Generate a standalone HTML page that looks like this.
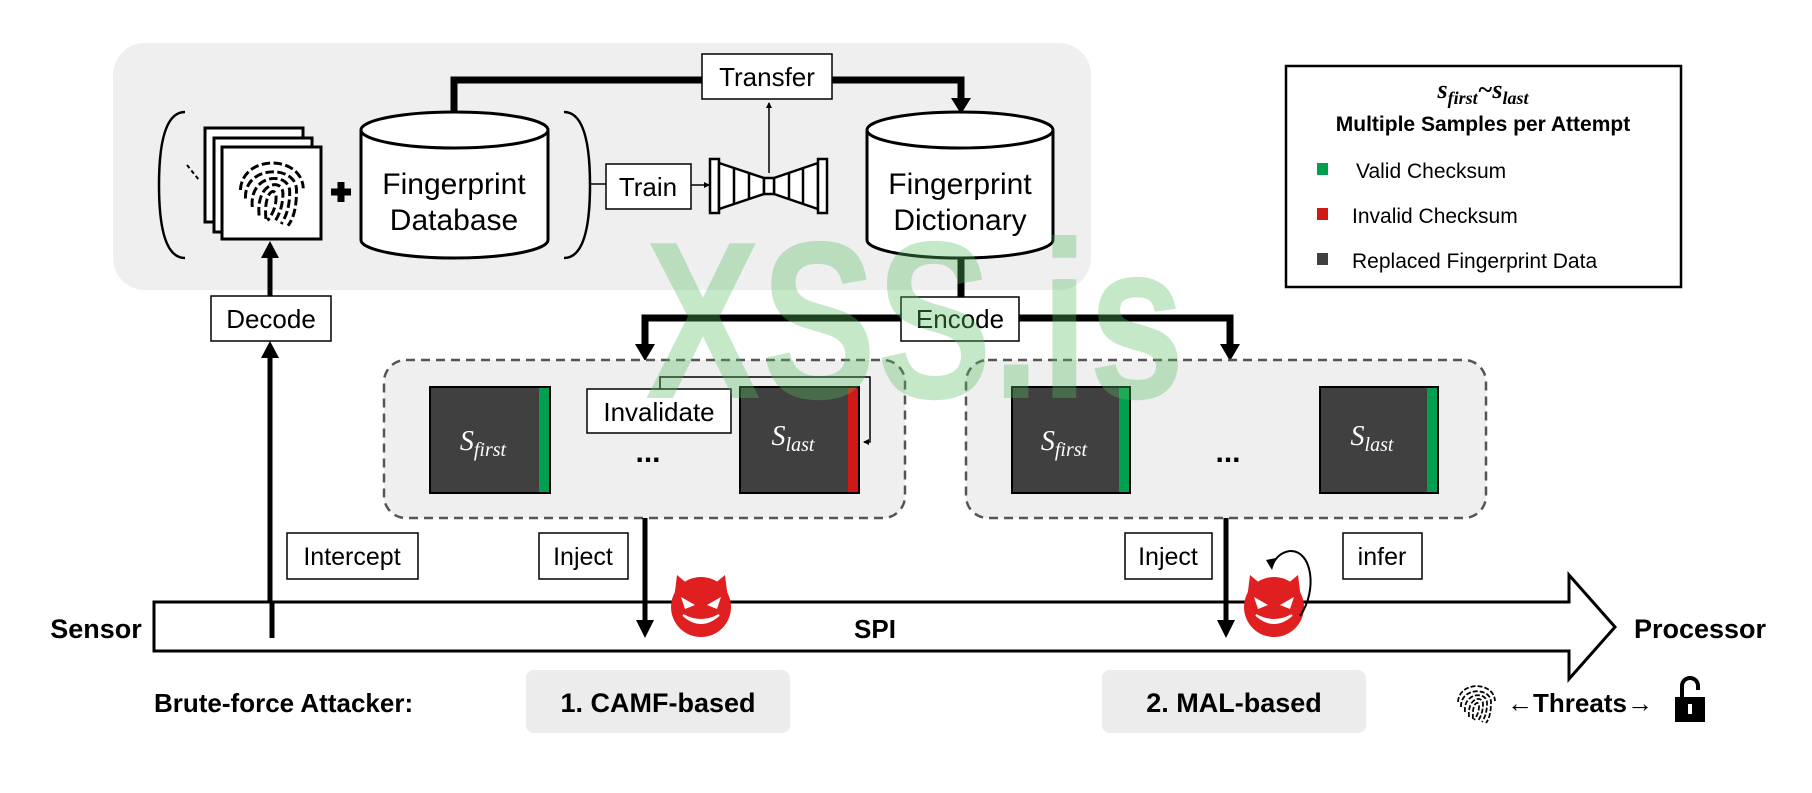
<!DOCTYPE html>
<html><head><meta charset="utf-8"><style>
html,body{margin:0;padding:0;background:#fff;}
svg{display:block;font-family:"Liberation Sans",Arial,sans-serif;}
</style></head><body>
<svg width="1812" height="793" viewBox="0 0 1812 793" xmlns="http://www.w3.org/2000/svg">
<defs>
<marker id="ah" markerWidth="6" markerHeight="6" refX="5" refY="3" orient="auto" markerUnits="userSpaceOnUse"><path d="M0,0 L6,3 L0,6 z" fill="#000"/></marker>
<g id="devil">
<path d="M-27,-8 L-24,-32 L-12,-22 z" fill="#e02020"/>
<path d="M27,-8 L24,-32 L12,-22 z" fill="#e02020"/>
<circle cx="0" cy="0" r="30" fill="#e02020"/>
<path d="M-20,-10 L-6,-2 L-16,2 z" fill="#fff"/>
<path d="M20,-10 L6,-2 L16,2 z" fill="#fff"/>
<path d="M-18,8 Q0,24 18,8 Q0,18 -18,8 z" fill="#fff" stroke="#fff" stroke-width="2"/>
</g>
<g id="fp" fill="none" stroke="#000" stroke-width="3.5" stroke-dasharray="10 4">
<path d="M-30,10 C-32,-30 30,-30 30,0 C30,25 25,35 20,42"/>
<path d="M-22,20 C-26,-20 22,-22 22,2 C22,22 17,32 12,40"/>
<path d="M-14,30 C-18,-10 14,-14 14,4 C14,20 9,30 4,38"/>
<path d="M-6,34 C-9,0 6,-4 6,8 C6,20 2,28 -4,36"/>
<path d="M-36,0 C-34,-42 36,-42 38,-2"/>
</g>
</defs>

<rect x="113" y="43" width="978" height="247" rx="32" fill="#efefef"/>

<path d="M185,112 Q159,112 159,185 Q159,258 185,258" fill="none" stroke="#000" stroke-width="2.5"/>
<path d="M564,112 Q590,112 590,185 Q590,258 564,258" fill="none" stroke="#000" stroke-width="2.5"/>

<rect x="205" y="128" width="98" height="94" fill="#fff" stroke="#000" stroke-width="3"/>
<rect x="214" y="138" width="98" height="94" fill="#fff" stroke="#000" stroke-width="3"/>
<rect x="222" y="147" width="99" height="92" fill="#fff" stroke="#000" stroke-width="3"/>
<g transform="translate(271,190) scale(0.85)"><use href="#fp"/></g>
<path d="M187,165 L199,180" stroke="#000" stroke-width="2" stroke-dasharray="4 3"/>
<path d="M341,182 V202 M331,192 H351" stroke="#000" stroke-width="7"/>

<path d="M361,130 V240 A93.5,18 0 0 0 548,240 V130" fill="#fff" stroke="#000" stroke-width="3"/>
<ellipse cx="454.5" cy="130" rx="93.5" ry="18" fill="#fff" stroke="#000" stroke-width="3"/>
<text x="454" y="194" font-size="30" text-anchor="middle">Fingerprint</text>
<text x="454" y="230" font-size="30" text-anchor="middle">Database</text>

<path d="M867,130 V240 A93,18 0 0 0 1053,240 V130" fill="#fff" stroke="#000" stroke-width="3"/>
<ellipse cx="960" cy="130" rx="93" ry="18" fill="#fff" stroke="#000" stroke-width="3"/>
<text x="960" y="194" font-size="30" text-anchor="middle">Fingerprint</text>
<text x="960" y="230" font-size="30" text-anchor="middle">Dictionary</text>

<path d="M454,112 V80 H961 V100" fill="none" stroke="#000" stroke-width="7"/>
<path d="M951,98 L971,98 L961,114 z" fill="#000"/>
<rect x="702" y="54" width="130" height="45" fill="#fff" stroke="#000" stroke-width="1.5"/>
<text x="767" y="86" font-size="26" text-anchor="middle">Transfer</text>
<line x1="769" y1="173" x2="769" y2="103" stroke="#000" stroke-width="1.5" marker-end="url(#ah)"/>

<line x1="590" y1="184" x2="606" y2="184" stroke="#000" stroke-width="1.5"/>
<rect x="606" y="164" width="85" height="45" fill="#fff" stroke="#000" stroke-width="1.5"/>
<text x="648" y="196" font-size="26" text-anchor="middle">Train</text>
<line x1="691" y1="185" x2="709" y2="185" stroke="#000" stroke-width="1.5" marker-end="url(#ah)"/>
<g fill="#fff" stroke="#000" stroke-width="2.5">
<rect x="710" y="159" width="9" height="54"/>
<path d="M719,163 L764,178 L764,194 L719,209 z"/>
<path d="M818,163 L774,178 L774,194 L818,209 z"/>
<rect x="764" y="178" width="10" height="16"/>
<rect x="818" y="159" width="9" height="54"/>
<path d="M734,168 V204 M749,173 V199 M789,173 V199 M803,168 V204"/>
</g>

<line x1="270" y1="640" x2="270" y2="355" stroke="#000" stroke-width="5"/>
<path d="M261,358 L279,358 L270,341 z" fill="#000"/>
<line x1="270" y1="296" x2="270" y2="258" stroke="#000" stroke-width="5"/>
<path d="M261,258 L279,258 L270,241 z" fill="#000"/>
<rect x="211" y="296" width="120" height="45" fill="#fff" stroke="#000" stroke-width="1.5"/>
<text x="271" y="328" font-size="26" text-anchor="middle">Decode</text>

<path d="M961,258 V318 M645,346 V318 H1230 V346" fill="none" stroke="#000" stroke-width="7"/>
<path d="M635,344 L655,344 L645,361 z" fill="#000"/>
<path d="M1220,344 L1240,344 L1230,361 z" fill="#000"/>
<rect x="901" y="297" width="118" height="44" fill="#fff" stroke="#000" stroke-width="1.5"/>
<text x="960" y="328" font-size="26" text-anchor="middle">Encode</text>

<rect x="384" y="360" width="521" height="158" rx="22" fill="#efefef" stroke="#555" stroke-width="2.5" stroke-dasharray="9 6"/>
<rect x="966" y="360" width="520" height="158" rx="22" fill="#efefef" stroke="#555" stroke-width="2.5" stroke-dasharray="9 6"/>

<g font-family="'Liberation Serif',serif" font-style="italic" fill="#fff">
<rect x="430" y="387" width="120" height="106" fill="#404040" stroke="#000" stroke-width="2"/>
<rect x="539" y="388" width="10" height="104" fill="#00a050"/>
<text x="483" y="450" font-size="28" text-anchor="middle">S<tspan font-size="20" dy="6">first</tspan></text>
<rect x="740" y="387" width="119" height="106" fill="#404040" stroke="#000" stroke-width="2"/>
<rect x="848" y="388" width="10" height="104" fill="#d01818"/>
<text x="793" y="445" font-size="28" text-anchor="middle">S<tspan font-size="20" dy="6">last</tspan></text>
<rect x="1012" y="387" width="118" height="106" fill="#404040" stroke="#000" stroke-width="2"/>
<rect x="1119" y="388" width="10" height="104" fill="#00a050"/>
<text x="1064" y="450" font-size="28" text-anchor="middle">S<tspan font-size="20" dy="6">first</tspan></text>
<rect x="1320" y="387" width="118" height="106" fill="#404040" stroke="#000" stroke-width="2"/>
<rect x="1427" y="388" width="10" height="104" fill="#00a050"/>
<text x="1372" y="445" font-size="28" text-anchor="middle">S<tspan font-size="20" dy="6">last</tspan></text>
</g>
<text x="648" y="462" font-size="30" font-weight="bold" text-anchor="middle">...</text>
<text x="1228" y="462" font-size="30" font-weight="bold" text-anchor="middle">...</text>

<path d="M660,389 V377 H870 V442 H864" fill="none" stroke="#000" stroke-width="1.5" marker-end="url(#ah)"/>
<rect x="587" y="389" width="144" height="44" fill="#fff" stroke="#000" stroke-width="1.5"/>
<text x="659" y="421" font-size="26" text-anchor="middle">Invalidate</text>

<path d="M154,602 H1569 V575 L1615,627 L1569,679 V651 H154 z" fill="#fff" stroke="#000" stroke-width="3"/>
<line x1="272" y1="602" x2="272" y2="638" stroke="#000" stroke-width="5"/>
<text x="96" y="638" font-size="27" font-weight="bold" text-anchor="middle">Sensor</text>
<text x="1700" y="638" font-size="27" font-weight="bold" text-anchor="middle">Processor</text>
<text x="875" y="638" font-size="26" font-weight="bold" text-anchor="middle">SPI</text>

<line x1="645" y1="518" x2="645" y2="622" stroke="#000" stroke-width="5"/>
<path d="M636,620 L654,620 L645,638 z" fill="#000"/>
<line x1="1226" y1="518" x2="1226" y2="622" stroke="#000" stroke-width="5"/>
<path d="M1217,620 L1235,620 L1226,638 z" fill="#000"/>

<rect x="287" y="533" width="131" height="46" fill="#fff" stroke="#000" stroke-width="1.5"/>
<text x="352" y="565" font-size="25" text-anchor="middle">Intercept</text>
<rect x="539" y="533" width="89" height="46" fill="#fff" stroke="#000" stroke-width="1.5"/>
<text x="583" y="565" font-size="25" text-anchor="middle">Inject</text>
<rect x="1125" y="533" width="87" height="46" fill="#fff" stroke="#000" stroke-width="1.5"/>
<text x="1168" y="565" font-size="25" text-anchor="middle">Inject</text>
<rect x="1343" y="533" width="79" height="46" fill="#fff" stroke="#000" stroke-width="1.5"/>
<text x="1382" y="565" font-size="25" text-anchor="middle">infer</text>

<g transform="translate(701,607)"><use href="#devil"/></g>
<g transform="translate(1274,607)"><use href="#devil"/></g>
<path d="M1300,616 C1318,590 1312,550 1290,551 C1282,552 1276,557 1273,564" fill="none" stroke="#000" stroke-width="2"/>
<path d="M1266,560 L1276,558 L1272,570 z" fill="#000"/>

<text x="154" y="712" font-size="26" font-weight="bold">Brute-force Attacker:</text>
<rect x="526" y="670" width="264" height="63" rx="8" fill="#ececec"/>
<text x="658" y="712" font-size="27" font-weight="bold" text-anchor="middle">1. CAMF-based</text>
<rect x="1102" y="670" width="264" height="63" rx="8" fill="#ececec"/>
<text x="1234" y="712" font-size="27" font-weight="bold" text-anchor="middle">2. MAL-based</text>
<g transform="translate(1476,702) scale(0.5)"><use href="#fp"/></g>
<text x="1580" y="712" font-size="26" font-weight="bold" text-anchor="middle">←Threats→</text>
<rect x="1675" y="697" width="30" height="25" fill="#000"/>
<path d="M1682,697 V686 A8,8 0 0 1 1698,686 V690" fill="none" stroke="#000" stroke-width="4"/>
<rect x="1688" y="704" width="4" height="10" fill="#fff"/>

<rect x="1286" y="66" width="395" height="221" fill="#fff" stroke="#000" stroke-width="2.5"/>
<text x="1483" y="98" font-size="26" text-anchor="middle" font-family="'Liberation Serif',serif" font-style="italic" font-weight="bold">s<tspan font-size="18" dy="6">first</tspan><tspan dy="-6">~s</tspan><tspan font-size="18" dy="6">last</tspan></text>
<text x="1483" y="131" font-size="21" font-weight="bold" text-anchor="middle">Multiple Samples per Attempt</text>
<rect x="1317" y="163" width="11" height="12" fill="#00a050"/>
<text x="1356" y="178" font-size="21">Valid Checksum</text>
<rect x="1317" y="208" width="11" height="12" fill="#d01818"/>
<text x="1352" y="223" font-size="21">Invalid Checksum</text>
<rect x="1317" y="253" width="11" height="12" fill="#404040"/>
<text x="1352" y="268" font-size="21">Replaced Fingerprint Data</text>

<text x="645" y="398" font-size="225" font-weight="bold" fill="rgb(90,190,100)" fill-opacity="0.35" textLength="540" lengthAdjust="spacingAndGlyphs">XSS.is</text>
</svg>
</body></html>
